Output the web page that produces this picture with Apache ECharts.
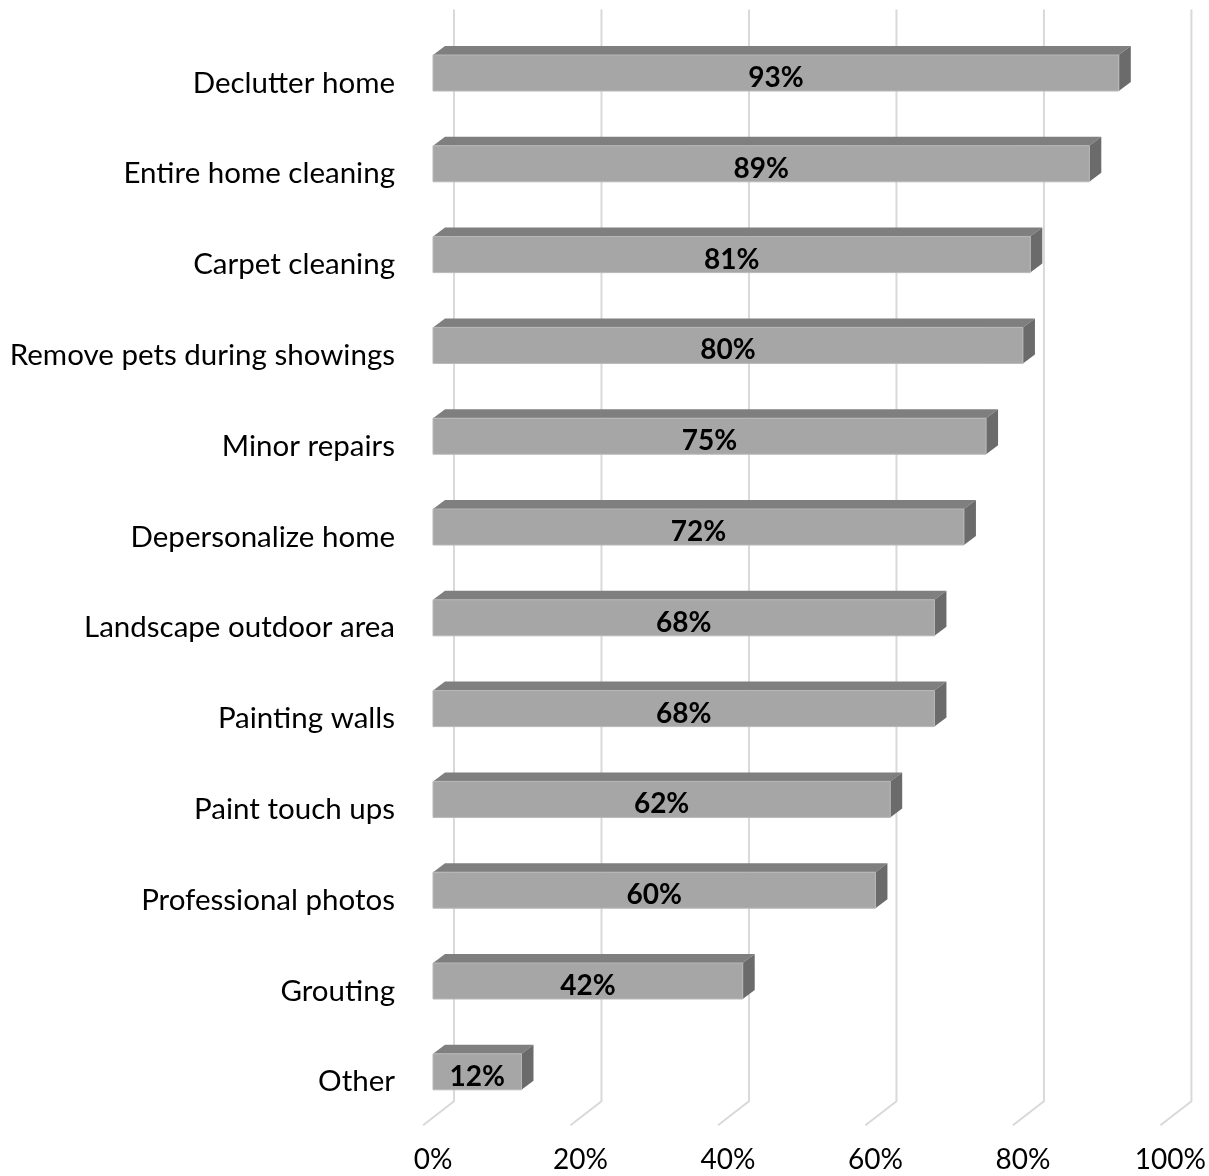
<!DOCTYPE html>
<html><head><meta charset="utf-8">
<script src="https://cdn.jsdelivr.net/npm/echarts@6/dist/echarts.min.js"></script>
<style>html,body{margin:0;padding:0;background:#fff}#c{width:1209px;height:1176px}</style>
</head><body><div id="c"></div>
<script>
const categories = ["Declutter home","Entire home cleaning","Carpet cleaning","Remove pets during showings","Minor repairs","Depersonalize home","Landscape outdoor area","Painting walls","Paint touch ups","Professional photos","Grouting","Other"];
const values = [93,89,81,80,75,72,68,68,62,60,42,12];
const tickValues = [0,20,40,60,80,100];

const FONT = 'Lato';
const chart = echarts.init(document.getElementById('c'), null, {renderer:'canvas'});

function gridItem(params, api){
  const v = api.value(0);
  const cs = params.coordSys;
  const x = api.coord([v, 0])[0];
  const top = cs.y - 18, bot = cs.y + cs.height - 16;
  return {type:'polyline', shape:{points:[[x+21, top],[x+21, bot],[x-10, bot+24]]},
    style:{stroke:'#d9d9d9', lineWidth:2, fill:null}, silent:true};
}
function barItem(params, api){
  const i = api.value(0), v = api.value(1);
  const p0 = api.coord([0, i]), p1 = api.coord([v, i]);
  const x0 = p0[0], x1 = p1[0], yc = p1[1];
  const h = 18, dx = 12, dy = 9;
  return {type:'group', children:[
    {type:'polygon', shape:{points:[[x0,yc-h],[x0+dx,yc-h-dy],[x1+dx,yc-h-dy],[x1,yc-h]]}, style:{fill:'#7f7f7f'}},
    {type:'polygon', shape:{points:[[x1,yc-h],[x1+dx,yc-h-dy],[x1+dx,yc+h-dy],[x1,yc+h]]}, style:{fill:'#6b6b6b'}},
    {type:'rect', shape:{x:x0,y:yc-h,width:x1-x0,height:2*h}, style:{fill:'#a6a6a6', stroke:'#b8b8b8', lineWidth:1}},
    {type:'text', x:(x0+x1)/2, y:yc+5, style:{text:v+'%', fill:'#000', font:'bold 28px '+FONT, align:'center', verticalAlign:'middle'}}
  ]};
}

chart.setOption({
  animation:false,
  grid:{left:433, right:38, top:27.6, bottom:58.8, containLabel:false},
  xAxis:{type:'value', min:0, max:100, interval:20,
    axisLine:{show:false}, axisTick:{show:false}, splitLine:{show:false},
    axisLabel:{formatter:'{value}%', fontFamily:FONT, fontSize:28, color:'#000', margin:29}},
  yAxis:{type:'category', data:categories, inverse:true,
    axisLine:{show:false}, axisTick:{show:false},
    axisLabel:{fontFamily:FONT, fontSize:29.5, color:'#000', margin:38, verticalAlign:'top', lineHeight:20}},
  series:[
    {type:'custom', renderItem:gridItem, data:tickValues.map(v=>[v]), encode:{x:0}, z:1, silent:true},
    {type:'custom', renderItem:barItem, data:values.map((v,i)=>[i,v]), encode:{y:0,x:1}, z:2}
  ]
});
</script></body></html>
